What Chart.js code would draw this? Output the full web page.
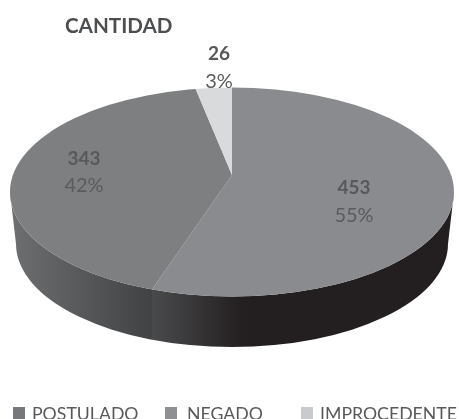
<!DOCTYPE html>
<html><head><meta charset="utf-8">
<style>html,body{margin:0;padding:0;background:#fff;overflow:hidden}canvas{display:block}</style>
<script src="https://cdn.jsdelivr.net/npm/chart.js@4"></script>
</head><body><canvas id="c" width="459" height="419"></canvas>
<script>
const titleText = 'CANTIDAD';
const categories = ['POSTULADO', 'NEGADO', 'IMPROCEDENTE'];
const values = [453, 343, 26];
const sliceColors = ['#8a8b8e', '#7e7f81', '#d9dadc'];
const legendColors = ['#77787b', '#8f9093', '#c9cacc'];
const legendBoxX = [13, 165, 301];
const legendTextX = [32, 187, 320];
const labelPos = [[354, 194, 222], [84, 165, 192], [219, 60, 88]];
const top3d = {cx: 232, cy: 192, rx: 222, ry: 104.5, apexX: 232, apexY: 175, reachX: 273, reachY: 130};
const bottom3d = {cx: 232, cy: 244, rx: 216, ry: 103};
const sideStops = [
  [['#6e6f71', 0], ['#414244', 1]],
  [['#4a4a4c', 0], ['#231f20', 1]]
];
const total = values.reduce((a, b) => a + b, 0);

function seamX(angle) {
  const dx = Math.cos(angle) * top3d.reachX, dy = Math.sin(angle) * top3d.reachY;
  const ox = top3d.apexX - top3d.cx, oy = top3d.apexY - top3d.cy;
  const A = dx * dx / (top3d.rx ** 2) + dy * dy / (top3d.ry ** 2);
  const B = 2 * (ox * dx / (top3d.rx ** 2) + oy * dy / (top3d.ry ** 2));
  const C = ox * ox / (top3d.rx ** 2) + oy * oy / (top3d.ry ** 2) - 1;
  const t = (-B + Math.sqrt(B * B - 4 * A * C)) / (2 * A);
  return top3d.apexX + t * dx;
}

const pie3d = {
  id: 'pie3d',
  beforeDatasetsDraw(chart) {
    const ctx = chart.ctx, arcs = chart.getDatasetMeta(0).data;
    const seam = seamX(arcs[0].endAngle);
    const L = top3d.cx - top3d.rx, Rt = top3d.cx + top3d.rx;
    ctx.save();
    ctx.beginPath();
    ctx.moveTo(L, top3d.cy);
    ctx.lineTo(bottom3d.cx - bottom3d.rx, bottom3d.cy);
    ctx.ellipse(bottom3d.cx, bottom3d.cy, bottom3d.rx, bottom3d.ry, 0, Math.PI, 0, true);
    ctx.lineTo(Rt, top3d.cy);
    ctx.ellipse(top3d.cx, top3d.cy, top3d.rx, top3d.ry, 0, 0, Math.PI, false);
    ctx.closePath();
    const g = ctx.createLinearGradient(L, 0, 243, 0);
    const s = (seam - L) / (243 - L);
    g.addColorStop(0, sideStops[0][0][0]);
    g.addColorStop(s - 0.001, sideStops[0][1][0]);
    g.addColorStop(s, sideStops[1][0][0]);
    g.addColorStop(1, sideStops[1][1][0]);
    ctx.fillStyle = g;
    ctx.fill();
    ctx.restore();
    const el = arcs[0], R = el.outerRadius;
    ctx.save();
    ctx.beginPath();
    ctx.ellipse(top3d.cx, top3d.cy, top3d.rx, top3d.ry, 0, 0, Math.PI * 2);
    ctx.clip();
    ctx.translate(top3d.apexX, top3d.apexY);
    ctx.scale(top3d.reachX / R, top3d.reachY / R);
    ctx.translate(-el.x, -el.y);
  },
  afterDatasetsDraw(chart) {
    const ctx = chart.ctx;
    ctx.restore();
    ctx.textAlign = 'center';
    ctx.textBaseline = 'alphabetic';
    values.forEach((v, i) => {
      const [x, y1, y2] = labelPos[i];
      ctx.font = 'bold 19px Lato';
      ctx.fillStyle = '#58595b';
      ctx.fillText(String(v), x, y1);
      ctx.font = '20px Lato';
      ctx.fillStyle = '#5a5b5d';
      ctx.fillText(Math.round(v / total * 100) + '%', x, y2);
    });
    ctx.textAlign = 'left';
    categories.forEach((name, i) => {
      ctx.fillStyle = legendColors[i];
      ctx.fillRect(legendBoxX[i], 407, 12, 12);
      ctx.font = '17.7px Lato';
      ctx.fillStyle = '#58595b';
      ctx.fillText(name, legendTextX[i], 420);
    });
  }
};

new Chart(document.getElementById('c'), {
  type: 'pie',
  data: {labels: categories, datasets: [{data: values, backgroundColor: sliceColors, borderWidth: 0}]},
  options: {
    responsive: false,
    animation: false,
    rotation: 0,
    layout: {padding: {left: 65, top: 14}},
    plugins: {
      legend: {display: false},
      tooltip: {enabled: false},
      title: {display: true, text: titleText, align: 'start', color: '#4d4e50',
        font: {family: 'Lato', size: 20.6, weight: 'bold'}, padding: 0}
    }
  },
  plugins: [pie3d]
});
</script></body></html>
